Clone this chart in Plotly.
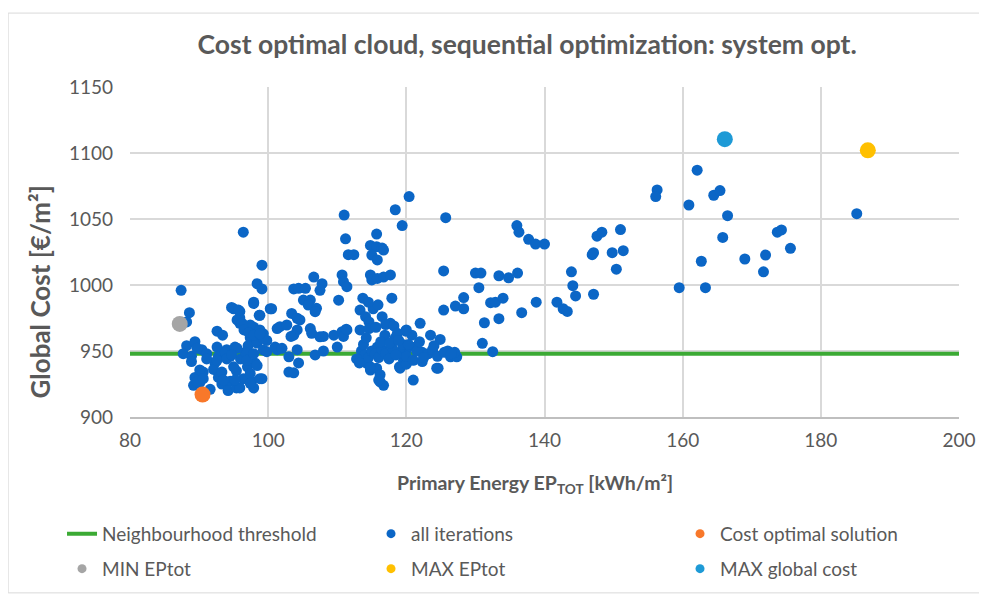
import plotly.graph_objects as go

# ---------------- data ----------------
ep_iterations = [
    87.4, 88.6, 88.2, 96.4, 99.1, 98.4, 99.1, 97.9, 100.3, 95.0, 95.9, 94.7, 97.9, 98.8, 95.9, 96.4,
    97.9, 101.3, 92.6, 93.4, 99.3, 99.8, 97.4, 97.1, 98.4, 88.2, 89.4, 87.7, 88.9, 90.4, 91.1, 92.6,
    94.0, 95.2, 94.5, 92.8, 88.9, 92.3, 92.1, 96.0, 96.7, 97.0, 98.1, 89.4, 90.6, 89.2, 90.1, 92.8,
    93.3, 94.5, 94.2, 95.4, 96.4, 97.6, 97.9, 99.1, 97.4, 95.4, 91.6, 101.3, 89.7, 91.1, 92.6, 93.8,
    94.0, 95.5, 94.7, 93.3, 93.5, 90.1, 89.7, 90.6, 95.9, 95.2, 95.0, 97.4, 98.8, 98.4, 96.9, 97.9,
    98.4, 99.3, 95.9, 97.4, 95.5, 98.8, 99.3, 99.8, 96.2, 98.7, 96.5, 97.2, 97.9, 98.8, 95.7,
    111.0, 111.2, 111.6, 112.4, 110.7, 110.9, 111.4, 110.2, 106.6, 107.8, 107.5, 103.7, 104.4, 105.4,
    105.1, 106.1, 105.8, 107.0, 106.8, 100.5, 103.4, 104.2, 104.6, 101.7, 102.7, 104.2, 103.7, 103.3,
    106.1, 106.3, 107.5, 109.5, 108.0, 110.7, 111.3, 110.9, 111.4, 101.0, 102.0, 104.2, 103.0, 104.4,
    103.0, 103.7, 106.8, 108.0, 110.0,
    114.8, 115.7, 116.5, 116.7, 115.7, 115.0, 115.8, 114.8, 115.0, 115.8, 116.7, 117.7, 118.4, 119.4,
    117.9, 113.7, 113.3, 115.2, 115.9, 114.5, 114.1, 114.6, 116.5, 117.7, 113.3, 114.6, 115.6, 117.0,
    118.2, 116.9, 118.4, 119.9, 120.8, 118.7, 120.0, 115.8, 114.3, 114.8, 115.7, 116.2, 116.2, 116.7,
    116.0, 114.8, 119.6, 119.0, 121.0, 119.1, 120.0, 124.4, 123.5, 124.9, 126.4, 127.3, 126.0, 127.0,
    120.0, 121.3, 122.3, 123.2, 119.0, 120.0, 121.0, 122.3, 122.0, 125.7, 125.4, 125.4, 127.1, 128.3,
    128.3, 124.6, 120.4,
    113.5, 114.0, 114.5, 115.0, 115.5, 116.0, 116.5, 117.0, 117.5, 118.0, 118.5, 119.5, 121.5, 122.5,
    123.8, 124.5, 125.5, 126.5, 113.8, 116.3, 117.6, 118.9, 120.3, 114.2, 112.8, 113.2, 121.9, 124.0,
    130.0, 130.8, 133.4, 134.8, 136.1, 130.5, 136.0, 136.3, 137.7, 138.7, 140.0, 132.2, 132.9, 134.0,
    136.7, 138.8, 141.8, 142.7, 143.3, 131.3, 133.4, 131.0, 132.5, 143.9, 144.1, 144.5,
    147.1, 146.9, 147.1, 147.6, 148.3, 149.8, 151.4, 150.4, 151.0, 156.3, 156.1, 159.5, 160.9, 162.1,
    162.7, 163.3, 164.5, 165.4, 165.8, 166.5, 169.0, 171.7, 172.0, 173.7, 174.3, 175.6, 185.2,
]
cost_iterations = [
    996, 979, 972, 1040, 1015, 1001, 997, 987, 982, 982, 980, 983, 986, 977, 975, 970,
    968, 967, 965, 962, 963, 958, 960, 954, 956, 954, 957, 948, 946, 951, 948, 953,
    951, 953, 946, 946, 942, 941, 936, 944, 949, 938, 941, 930, 934, 924, 926, 930,
    925, 927, 920, 922, 929, 927, 922, 929, 933, 935, 921, 951, 952, 944, 943, 949,
    944, 952, 947, 934, 928, 935.6, 926.7, 929, 922, 928, 938, 925.5, 929, 939, 943, 948,
    958, 950.8, 971, 969.7, 973.5, 966, 959.6, 949.5, 971, 977, 966, 964, 962, 963, 981,
    1053, 1035, 1023, 1023, 1007.6, 1002.5, 998.7, 988.5, 1006, 1001, 996, 997, 997.5, 997.5,
    988.6, 988.6, 984.8, 982.3, 979.8, 982, 978.5, 974.8, 973.5, 968.4, 969.7, 966, 962, 961,
    967, 963.4, 960.8, 962, 961, 964.6, 966.5, 961, 966, 953, 952, 951, 945.6, 941,
    934, 933.5, 947, 950, 953,
    1030, 1029, 1028, 1026.5, 1038.6, 1022.7, 1019, 1007.6, 1003.8, 1005, 1006, 1007.6, 1057, 1045,
    990, 990, 981, 982, 985, 987, 976, 972, 976, 971, 966, 967, 968, 970,
    969, 962, 960, 965, 962, 963.4, 966, 953, 940.6, 935.6, 937, 932, 926.7, 924,
    928, 938, 943, 938, 928, 937, 940, 937, 962, 958.8, 945.6, 945.6, 950, 949,
    951, 953, 949, 948, 949, 946, 943, 942, 971, 1051, 1010.7, 981, 984, 982,
    990.5, 937, 1067,
    950, 947, 945, 950, 948, 945, 951, 948, 944, 952, 947, 955, 950, 945,
    951, 946, 949, 948, 955, 957, 956, 958, 955, 960, 944, 941, 957, 954,
    1009, 1009, 1007, 1005.5, 1009, 998, 1045, 1040, 1034.6, 1031, 1031, 986.6, 987, 990,
    979, 987, 987, 982, 980, 971.4, 974.5, 955.8, 949.5, 1010, 999.5, 991.7,
    993, 1023, 1024.5, 1037, 1040, 1024.5, 1026, 1012, 1042, 1072, 1067, 998, 1060.6, 1087,
    1018, 998, 1068, 1071.5, 1036, 1052.5, 1019.7, 1010, 1022.7, 1040, 1041.7, 1027.8, 1054,
]

threshold_ep = [80, 200]
threshold_cost = [948, 948]

cost_optimal_ep, cost_optimal_cost = [90.5], [917]
min_ep_ep, min_ep_cost = [87.2], [970.5]
max_ep_ep, max_ep_cost = [186.8], [1102]
max_cost_ep, max_cost_cost = [166.1], [1110.5]

x_ticks = [80, 100, 120, 140, 160, 180, 200]
y_ticks = [900, 950, 1000, 1050, 1100, 1150]

# ---------------- styles ----------------
FONT = "Lato"
TXT = "#595959"
BLUE = "#0B66C6"
GREEN = "#3BAA34"
ORANGE = "#F8782A"
GRAY = "#A5A5A5"
YELLOW = "#FFC000"
CYAN = "#1E9AD6"
GRID = "#D9D9D9"

fig = go.Figure()

fig.add_trace(go.Scatter(x=threshold_ep, y=threshold_cost, mode="lines",
                         line=dict(color=GREEN, width=4), showlegend=False, hoverinfo="skip"))
fig.add_trace(go.Scatter(x=ep_iterations, y=cost_iterations, mode="markers",
                         marker=dict(color=BLUE, size=11), showlegend=False))
fig.add_trace(go.Scatter(x=cost_optimal_ep, y=cost_optimal_cost, mode="markers",
                         marker=dict(color=ORANGE, size=16), showlegend=False))
fig.add_trace(go.Scatter(x=min_ep_ep, y=min_ep_cost, mode="markers",
                         marker=dict(color=GRAY, size=16), showlegend=False))
fig.add_trace(go.Scatter(x=max_ep_ep, y=max_ep_cost, mode="markers",
                         marker=dict(color=YELLOW, size=16), showlegend=False))
fig.add_trace(go.Scatter(x=max_cost_ep, y=max_cost_cost, mode="markers",
                         marker=dict(color=CYAN, size=16), showlegend=False))

# legend entries (same series styles, legend-sized markers)
def legend_item(name, legend, color, line=False):
    if line:
        return go.Scatter(x=[None], y=[None], mode="lines", name=name, legend=legend,
                          line=dict(color=color, width=4))
    return go.Scatter(x=[None], y=[None], mode="markers", name=name, legend=legend,
                      marker=dict(color=color, size=9))

fig.add_trace(legend_item("Neighbourhood threshold", "legend", GREEN, line=True))
fig.add_trace(legend_item("all iterations", "legend", BLUE))
fig.add_trace(legend_item("Cost optimal solution", "legend", ORANGE))
fig.add_trace(legend_item("MIN EPtot", "legend2", GRAY))
fig.add_trace(legend_item("MAX EPtot", "legend2", YELLOW))
fig.add_trace(legend_item("MAX global cost", "legend2", CYAN))

legend_common = dict(orientation="h", xanchor="left", yanchor="middle",
                     entrywidth=264, entrywidthmode="pixels",
                     font=dict(family=FONT, size=19, color=TXT),
                     bgcolor="rgba(0,0,0,0)", borderwidth=0, itemclick=False)

fig.update_layout(
    width=987, height=595,
    margin=dict(l=122, r=36, t=79, b=186, autoexpand=False),
    paper_bgcolor="white", plot_bgcolor="white",
    font=dict(family=FONT, color=TXT),
    title=dict(text="<b>Cost optimal cloud, sequential optimization: system opt.</b>",
               x=0.526, xanchor="center", y=0.938, yanchor="middle",
               font=dict(family=FONT, size=26.5, color=TXT)),
    xaxis=dict(range=[80, 200], tickvals=x_ticks, showgrid=True, gridcolor=GRID, gridwidth=1.5,
               zeroline=False, showline=True, linecolor="#BFBFBF", linewidth=1.5,
               ticks="", ticklabelstandoff=5,
               tickfont=dict(family=FONT, size=19, color=TXT)),
    yaxis=dict(range=[900, 1150], tickvals=y_ticks, showgrid=True, gridcolor=GRID, gridwidth=1.5,
               zeroline=False, showline=False, ticks="", ticklabelstandoff=16,
               tickfont=dict(family=FONT, size=19, color=TXT)),
    annotations=[
        dict(text="<b>Primary Energy EP<sub>TOT</sub> [kWh/m²]</b>", xref="paper", yref="paper",
             x=0.488, y=-0.203, xanchor="center", yanchor="middle", showarrow=False,
             font=dict(family=FONT, size=19.5, color=TXT)),
        dict(text="<b>Global Cost [€/m²]</b>", xref="paper", yref="paper", textangle=-90,
             x=-0.1086, y=0.38, xanchor="center", yanchor="middle", showarrow=False,
             font=dict(family=FONT, size=26, color=TXT)),
    ],
    legend=dict(x=-0.082, y=-0.354, **legend_common),
    legend2=dict(x=-0.082, y=-0.46, **legend_common),
    shapes=[dict(type="rect", xref="paper", yref="paper",
                 x0=-0.147, x1=1.032, y0=-0.533, y1=1.224,
                 line=dict(color="#D9D9D9", width=1), fillcolor="rgba(0,0,0,0)", layer="below")],
    showlegend=True,
)

fig.write_html("out.html")
